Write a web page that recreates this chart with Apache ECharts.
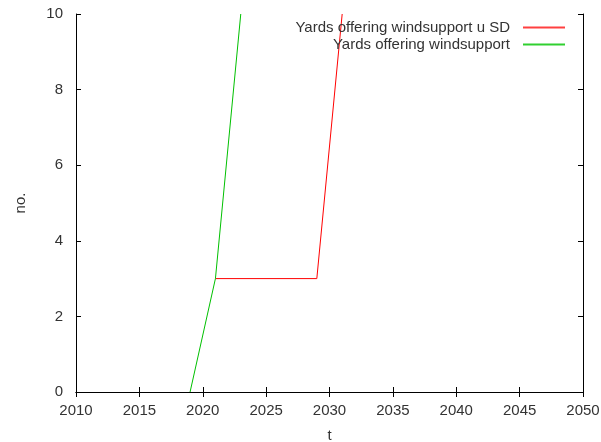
<!DOCTYPE html>
<html>
<head>
<meta charset="utf-8">
<script src="https://cdn.jsdelivr.net/npm/echarts@6/dist/echarts.min.js"></script>
<style>html,body{margin:0;padding:0;background:#fff}#c{width:601px;height:442px}</style>
</head>
<body>
<div id="c"></div>
<script>
var seriesNames = ['Yards offering windsupport u SD', 'Yards offering windsupport'];
var redYears = [2021, 2029, 2031];
var redValues = [3, 3, 10];
var greenYears = [2019, 2021, 2023];
var greenValues = [0, 3, 10];
var xTicks = [2010, 2015, 2020, 2025, 2030, 2035, 2040, 2045, 2050];
var yTicks = [0, 2, 4, 6, 8, 10];

function pairs(xs, ys) { return xs.map(function (x, i) { return [x, ys[i]]; }); }

var font = 'Liberation Sans, Arial, sans-serif';
var txt = '#333';
var fs = 15;
var axisLineStyle = { lineStyle: { color: '#000', width: 1 } };
var chart = echarts.init(document.getElementById('c'));
chart.setOption({
  animation: false,
  backgroundColor: '#fff',
  grid: { left: 76, right: 18, top: 14, bottom: 50, containLabel: false, outerBoundsMode: 'none' },
  legend: {
    orient: 'vertical', align: 'right', right: 31, top: 15,
    itemWidth: 42, itemHeight: 2, itemGap: 2, icon: 'rect',
    textStyle: { fontFamily: font, fontSize: fs, color: txt, padding: [0, 8, 0, 0] },
    data: seriesNames
  },
  xAxis: [{
    type: 'value', min: xTicks[0], max: xTicks[xTicks.length - 1], interval: 5,
    position: 'bottom', name: 't', nameLocation: 'middle', nameGap: 36,
    nameTextStyle: { fontFamily: font, fontSize: fs, color: txt },
    axisLine: axisLineStyle,
    axisTick: { inside: true, length: 5, lineStyle: { color: '#000' } },
    axisLabel: { fontFamily: font, fontSize: fs, color: txt, margin: 11, formatter: function (v) { return String(v); } },
    splitLine: { show: false }
  }, {
    type: 'value', min: xTicks[0], max: xTicks[xTicks.length - 1], interval: 5,
    position: 'top', axisLine: axisLineStyle,
    axisTick: { inside: true, length: 5, lineStyle: { color: '#000' } },
    axisLabel: { show: false }, splitLine: { show: false }
  }],
  yAxis: [{
    type: 'value', min: yTicks[0], max: yTicks[yTicks.length - 1], interval: 2,
    position: 'left', name: 'no.', nameLocation: 'middle', nameGap: 48,
    nameTextStyle: { fontFamily: font, fontSize: fs, color: txt },
    axisLine: { show: true, lineStyle: { color: '#000', width: 1 } },
    axisTick: { show: true, inside: true, length: 5, lineStyle: { color: '#000' } },
    axisLabel: { fontFamily: font, fontSize: fs, color: txt, margin: 13 },
    splitLine: { show: false }
  }, {
    type: 'value', min: yTicks[0], max: yTicks[yTicks.length - 1], interval: 2,
    position: 'right',
    axisLine: { show: true, lineStyle: { color: '#000', width: 1 } },
    axisTick: { show: true, inside: true, length: 5, lineStyle: { color: '#000' } },
    axisLabel: { show: false }, splitLine: { show: false }
  }],
  series: [{
    name: seriesNames[0], type: 'line', symbol: 'none',
    data: pairs(redYears, redValues),
    lineStyle: { color: '#ff0000', width: 1 }, itemStyle: { color: '#ff4040' }
  }, {
    name: seriesNames[1], type: 'line', symbol: 'none',
    data: pairs(greenYears, greenValues),
    lineStyle: { color: '#00c000', width: 1 }, itemStyle: { color: '#30d030' }
  }]
});
</script>
</body>
</html>
